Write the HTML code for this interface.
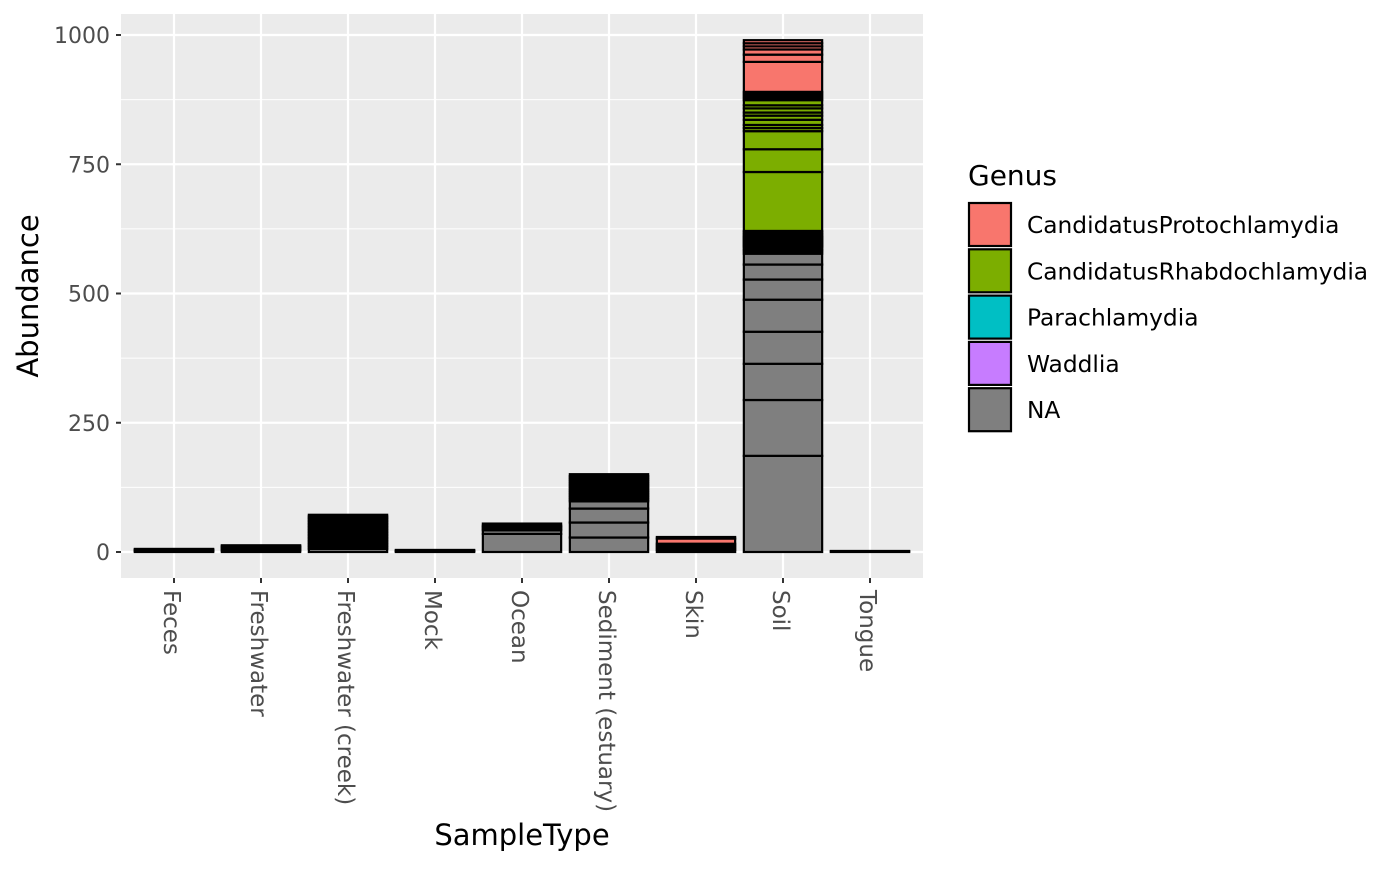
<!DOCTYPE html>
<html><head><meta charset="utf-8"><style>
html,body{margin:0;padding:0;background:#fff;}
svg text{font-family:"DejaVu Sans","Liberation Sans",sans-serif;}
</style></head><body>
<svg id="chart" width="1400" height="866" xmlns="http://www.w3.org/2000/svg">
<rect x="121" y="14" width="802" height="564" fill="#ebebeb"/>
<g id="grid"></g>
<g id="bars"></g>
<g id="axes"></g>
<text x="38" y="296" font-size="29" text-anchor="middle" transform="rotate(-90 38 296)">Abundance</text>
<text x="522" y="845" font-size="29" text-anchor="middle">SampleType</text>
<g id="legend"></g>
</svg>
<script>
const categories = ["Feces","Freshwater","Freshwater (creek)","Mock","Ocean","Sediment (estuary)","Skin","Soil","Tongue"];
const genera = ["CandidatusProtochlamydia","CandidatusRhabdochlamydia","Parachlamydia","Waddlia","NA"];
const colors = ["#F8766D","#7CAE00","#00BFC4","#C77CFF","#7F7F7F"];
const yTicks = [0,250,500,750,1000];
const segValues = [
  [1,1,1,1,1,1],
  [2,2,1,2,2,1,2,1],
  [6,3,3,3,3,3,3,3,3,3,3,3,3,3,3,3,3,3,3,3,3,3,3],
  [1,1,1,1],
  [35,7,3,3,3,4],
  [28,29,27,14,3.5,3.5,3.5,3.5,3.5,3.5,3.5,3.5,3.5,3.5,3.5,3.5,3.5,3.5,3.5],
  [4,4,4,4,10,3],
  [186,108,70,62,62,39,29,21,4,3,3,3,2, 2,2,2,2,2,2,2,2,2,2, 3,3,3,114,44,35,6,6,10,8,6,8,6,10,4,4,4,4, 58,14,10,6,6,6],
  [1,1]
];
const segGenus = [
  [4,4,4,4,4,4],
  [4,4,4,4,4,4,4,4],
  [4,4,4,4,4,4,4,4,4,4,4,4,4,4,4,4,4,4,4,4,4,4,4],
  [4,4,4,4],
  [4,4,4,4,4,4],
  [4,4,4,4,4,4,4,4,4,4,4,4,4,4,4,4,4,4,4],
  [4,4,4,4,0,0],
  [4,4,4,4,4,4,4,4,4,4,4,4,4, 2,2,2,2,2,2,2,2,2,2, 1,1,1,1,1,1,1,1,1,1,1,1,1,1,1,1,1,1, 0,0,0,0,0,0],
  [4,4]
];
const NS="http://www.w3.org/2000/svg";
const px0=121, pw=802, y0=552, pxPerUnit=0.517;
const yScale=v=>y0-v*pxPerUnit;
const step=87;
const xScale=i=>174+step*i;
const bw=step*0.9;
function mk(tag,attrs,parent){const e=document.createElementNS(NS,tag);for(const k in attrs)e.setAttribute(k,attrs[k]);parent.appendChild(e);return e;}
const grid=document.getElementById('grid'), bars=document.getElementById('bars'), axes=document.getElementById('axes'), legend=document.getElementById('legend');
for(let i=0;i<yTicks.length-1;i++){const m=(yTicks[i]+yTicks[i+1])/2;
 const l=mk('line',{x1:px0,x2:px0+pw,y1:yScale(m),y2:yScale(m),stroke:'#fff','stroke-width':1.1},grid);
 
 }
yTicks.forEach(t=>{const y=yScale(t);
 const l=mk('line',{x1:px0,x2:px0+pw,y1:y,y2:y,stroke:'#fff','stroke-width':2.2},grid);
 
 
 const tk=mk('line',{x1:px0-5,x2:px0,y1:y,y2:y,stroke:'#333','stroke-width':2},axes);
 
 
 const tx=mk('text',{x:px0-11,y:y+8,'font-size':22,fill:'#4d4d4d','text-anchor':'end'},axes);
 tx.textContent=t;
 
 });
categories.forEach((c,i)=>{const x=xScale(i);
 const l=mk('line',{x1:x,x2:x,y1:14,y2:578,stroke:'#fff','stroke-width':2.2},grid);
 
 
 const tk=mk('line',{x1:x,x2:x,y1:578,y2:583,stroke:'#333','stroke-width':2},axes);
 
 
 const tx=mk('text',{x:x-10,y:590,'font-size':23,fill:'#4d4d4d',transform:`rotate(90 ${x-10} 590)`},axes);
 tx.textContent=c;
 
 
 let cum=0;
 segValues[i].forEach((v,j)=>{const yTop=yScale(cum+v), yBot=yScale(cum);cum+=v;
  const r=mk('rect',{x:x-bw/2,y:yTop,width:bw,height:Math.max(yBot-yTop,0.01),fill:colors[segGenus[i][j]],stroke:'#000','stroke-width':2.2},bars);
  
  });
});
const lt=mk('text',{x:968,y:185,'font-size':28},legend);
lt.textContent='Genus';


genera.forEach((g,i)=>{const y=203+i*46.3;
 const r=mk('rect',{x:969,y:y,width:42,height:43,fill:colors[i],stroke:'#000','stroke-width':2.2},legend);
 
 
 const t=mk('text',{x:1027,y:y+30,'font-size':23.3},legend);
 t.textContent=g;
 
 });
</script>
</body></html>
